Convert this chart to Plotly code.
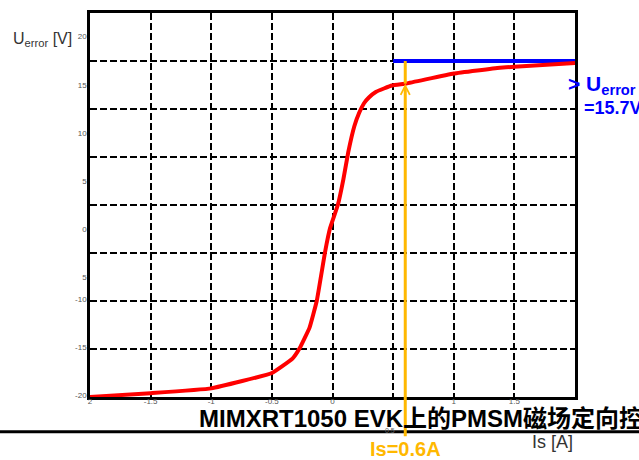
import numpy as np
import plotly.graph_objects as go

# ---- data ----
is_amp = [-2.0, -1.5, -1.0, -0.5, -0.33, -0.27, -0.19, -0.13, -0.06, -0.02, 0.045, 0.09, 0.13, 0.18, 0.22, 0.26, 0.30, 0.36, 0.49, 0.61, 1.0, 1.38, 1.5, 2.0]
u_err = [-20.0, -19.6, -19.1, -17.5, -16.0, -14.9, -12.8, -10.0, -4.8, -2.4, 0.05, 2.7, 5.5, 8.2, 9.6, 10.6, 11.2, 11.8, 12.45, 12.66, 13.7, 14.3, 14.4, 14.8]
limit_x = [0.5, 2.0]
limit_y = [15.0, 15.0]
is_marker = 0.6

grid_x = [-1.5, -1.0, -0.5, 0.0, 0.5, 1.0, 1.5]
grid_y = [-15, -10, -5, 0, 5, 10, 15]
x_tick_vals = [-2.0, -1.5, -1.0, -0.5, 0.0, 1.0, 1.5]
x_tick_text = ["2", "-1.5", "-1", "-0.5", "0", "1", "1.5"]
y_tick_vals = [17.6, 12.5, 7.5, 2.5, -2.5, -7.5, -9.8, -14.8, -19.8]
y_tick_text = ["20", "15", "10", "5", "0", "5", "-10", "-15", "-20"]

FONT = "Liberation Sans, Arial, Noto Sans CJK SC, sans-serif"
ORANGE = "#FFB800"

fig = go.Figure()
fig.add_trace(go.Scatter(x=limit_x, y=limit_y, mode="lines",
                         line=dict(color="#0000FF", width=4), hoverinfo="skip"))
fig.add_trace(go.Scatter(x=is_amp, y=u_err, mode="lines",
                         line=dict(color="#FF0000", width=4, shape="spline", smoothing=0.3),
                         hoverinfo="skip"))

head_y = float(np.interp(is_marker, is_amp, u_err))

# Orange line from blue limit down to the curve
fig.add_shape(type="line", xref="x", yref="y", x0=is_marker, x1=is_marker,
              y0=limit_y[0], y1=head_y, line=dict(color=ORANGE, width=3))
# Orange arrow with label underneath
fig.add_annotation(x=is_marker, y=head_y, xref="x", yref="y", ax=0, ay=365,
                   text="<b>Is=0.6A</b>", showarrow=True, arrowhead=5,
                   arrowsize=0.6, arrowwidth=3, arrowcolor=ORANGE,
                   font=dict(family=FONT, size=20, color=ORANGE))

# Title with underline
fig.add_annotation(x=(197 - 90) / 485, y=(397 - 419) / 387, xref="paper", yref="paper",
                   xanchor="left", yanchor="middle", showarrow=False,
                   text="<b>MIMXRT1050 EVK上的PMSM磁场定向控</b>",
                   font=dict(family=FONT, size=24, color="black"))
fig.add_shape(type="line", xref="paper", yref="paper",
              x0=(0 - 90) / 485, x1=(639 - 90) / 485,
              y0=(397 - 432) / 387, y1=(397 - 432) / 387,
              line=dict(color="black", width=3))

# Axis titles
fig.add_annotation(x=(11 - 90) / 485, y=(397 - 37) / 387, xref="paper", yref="paper",
                   xanchor="left", yanchor="middle", showarrow=False,
                   text="U<sub>error</sub> [V]",
                   font=dict(family=FONT, size=16, color="#333333"))
fig.add_annotation(x=(552 - 90) / 485, y=(397 - 442) / 387, xref="paper", yref="paper",
                   xanchor="center", yanchor="middle", showarrow=False,
                   text="Is [A]", font=dict(family=FONT, size=18, color="#333333"))
# partly hidden 0.5 tick label
fig.add_annotation(x=(390 - 90) / 485, y=(397 - 431) / 387, xref="paper", yref="paper",
                   xanchor="center", yanchor="middle", showarrow=False,
                   text="0.5", font=dict(family=FONT, size=7, color="#666666"))

# Blue annotation
fig.add_annotation(x=(566 - 90) / 485, y=(397 - 83) / 387, xref="paper", yref="paper",
                   xanchor="left", yanchor="middle", showarrow=False,
                   text="<b>&gt; U<sub>error</sub></b>",
                   font=dict(family=FONT, size=21, color="#0000FF"))
fig.add_annotation(x=(582 - 90) / 485, y=(397 - 106) / 387, xref="paper", yref="paper",
                   xanchor="left", yanchor="middle", showarrow=False,
                   text="<b>=15.7V</b>",
                   font=dict(family=FONT, size=18, color="#0000FF"))

fig.update_layout(
    width=639, height=460,
    margin=dict(l=90, r=64, t=10, b=63),
    paper_bgcolor="white", plot_bgcolor="white",
    showlegend=False, hovermode=False,
    xaxis=dict(range=[-2, 2], showgrid=False, zeroline=False,
               showline=True, mirror=True, linecolor="black", linewidth=2.5,
               tickmode="array", tickvals=x_tick_vals, ticktext=x_tick_text,
               ticks="", ticklabelstandoff=-5,
               tickfont=dict(family=FONT, size=8, color="#555555"),
               minor=dict(tickmode="array", tickvals=grid_x, showgrid=True,
                          gridcolor="black", gridwidth=2, griddash="7px,3px", ticks="")),
    yaxis=dict(range=[-20, 20], showgrid=False, zeroline=False,
               showline=True, mirror=True, linecolor="black", linewidth=2.5,
               tickmode="array", tickvals=y_tick_vals, ticktext=y_tick_text,
               ticks="", ticklabelstandoff=-1,
               tickfont=dict(family=FONT, size=8, color="#555555"),
               minor=dict(tickmode="array", tickvals=grid_y, showgrid=True,
                          gridcolor="black", gridwidth=2, griddash="7px,3px", ticks="")),
)

fig.write_html("out.html")
